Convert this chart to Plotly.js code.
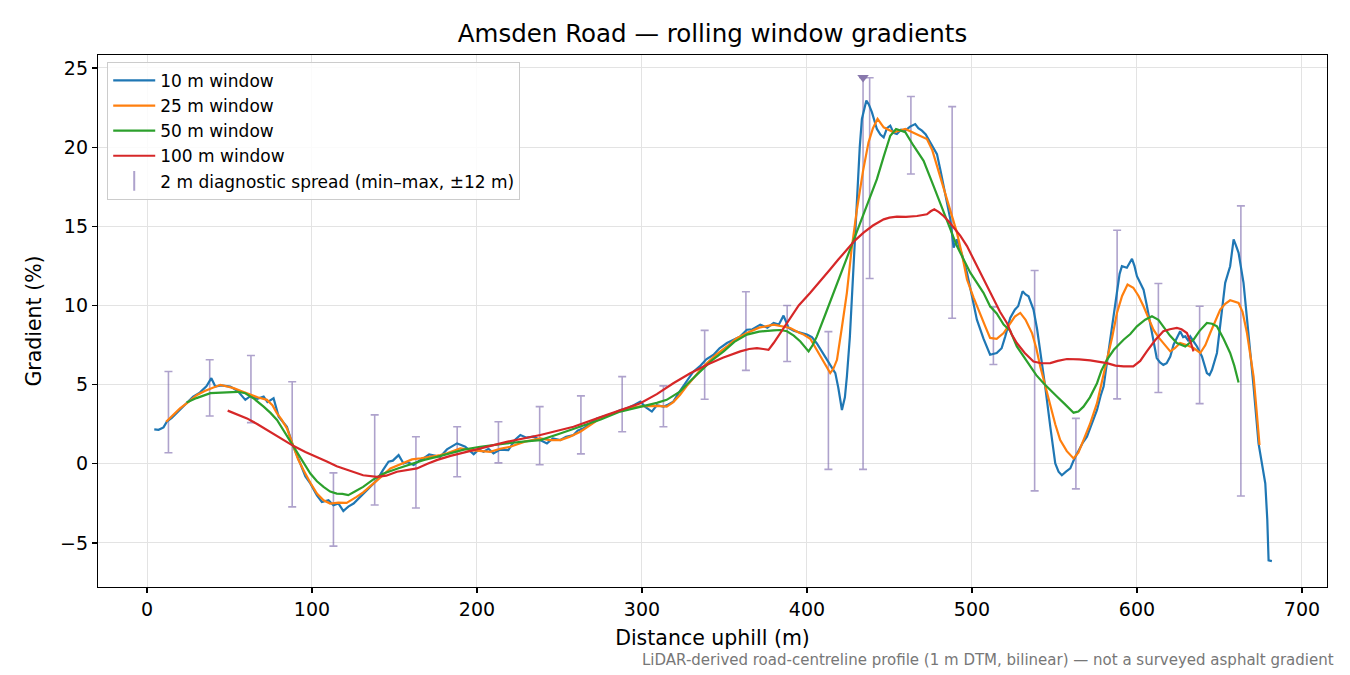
<!DOCTYPE html>
<html>
<head>
<meta charset="utf-8">
<script src="https://cdn.plot.ly/plotly-3.0.1.min.js"></script>
<style>
  html, body { margin: 0; padding: 0; background: #fff; }
  #chart { width: 1350px; height: 675px; }
</style>
</head>
<body>
<div id="chart"></div>
<script>
// 10 m window
const dist10 = [4.4, 7, 10, 12, 15, 20, 24, 28, 32, 36, 39, 41.4, 45, 50.5, 55, 59.6, 63, 67, 70.7, 73, 76.7, 79.8, 84.8, 88.3, 92.9, 96, 99, 103, 106, 110, 113, 116, 119, 122, 125.2, 131, 135, 139.4, 143, 146.4, 149, 152.5, 155.5, 158, 161.6, 165, 167.6, 171, 175, 177.8, 181.8, 185, 187.9, 190, 192.9, 198, 201, 204, 207, 210, 214, 219, 223, 226.3, 230, 234.3, 238, 242.4, 246, 250.5, 254, 258.5, 261, 264.6, 268, 272.7, 277, 282.8, 287, 290.9, 295, 299, 302, 306, 309, 313, 316, 319, 323, 327, 331, 335, 339, 343.4, 347, 351.5, 355, 359.6, 363.6, 367, 371.7, 376, 379.8, 383, 385.8, 388.9, 392, 396, 400, 403, 406, 409, 412, 415, 417.2, 419, 421.2, 423, 424.2, 426, 427.3, 429, 430.3, 432, 433.3, 436, 437.5, 439.4, 442.4, 444.5, 446.5, 448.5, 450.5, 452.5, 454.5, 457, 459.6, 462.5, 465.6, 467.5, 469.7, 472, 474.7, 478.8, 481, 482.8, 486.9, 488.9, 490.9, 494, 497, 500, 503, 507, 511, 515, 518, 520.2, 523.2, 526, 528, 530.7, 532.5, 534.3, 537.3, 539.5, 541.4, 544.4, 547.5, 550.5, 552.5, 554.5, 557, 559.6, 562, 564.6, 567, 569.7, 572.5, 575.8, 578, 579.8, 583.8, 587.9, 589.5, 590.9, 593.9, 597, 598.5, 600, 604, 606, 608, 610, 612, 614, 616, 618, 620.2, 622.2, 624, 626.2, 628, 629.3, 631, 632.3, 634.5, 636.4, 639.4, 642.4, 644, 645.5, 648.5, 651.5, 653.5, 656.5, 658.6, 660, 661.6, 664.6, 667.6, 670.7, 673.7, 675.8, 677.8, 679, 679.8, 681.8];
const grad10 = [2.18, 2.15, 2.3, 2.66, 2.9, 3.4, 3.8, 4.25, 4.5, 4.9, 5.41, 4.88, 4.95, 4.88, 4.6, 4.04, 4.3, 4.1, 4.25, 3.9, 4.14, 2.98, 2.34, 1.19, 0.02, -0.8, -1.24, -2.0, -2.41, -2.3, -2.62, -2.5, -2.98, -2.7, -2.51, -1.88, -1.5, -1.03, -0.4, 0.13, 0.2, 0.55, 0.02, 0.1, -0.08, 0.2, 0.34, 0.6, 0.5, 0.44, 0.91, 1.1, 1.29, 1.2, 1.08, 0.61, 0.9, 0.76, 0.95, 0.66, 0.9, 0.87, 1.5, 1.82, 1.65, 1.71, 1.5, 1.29, 1.6, 1.5, 1.7, 1.82, 2.1, 2.24, 2.5, 2.87, 3.0, 3.19, 3.4, 3.51, 3.7, 3.93, 3.6, 3.3, 3.7, 3.61, 3.75, 3.93, 4.6, 5.2, 5.8, 6.15, 6.6, 6.89, 7.3, 7.63, 7.8, 8.05, 8.47, 8.5, 8.79, 8.6, 8.9, 8.8, 9.36, 8.58, 8.4, 8.3, 8.16, 8.0, 7.6, 7.1, 6.57, 6.1, 5.73, 4.8, 3.4, 4.2, 5.51, 8.0, 10.8, 14.0, 17.1, 20.0, 21.78, 22.94, 22.7, 22.2, 21.15, 20.8, 20.62, 21.2, 21.36, 20.9, 20.83, 21.1, 21.04, 21.3, 21.46, 21.2, 21.04, 20.8, 20.3, 19.56, 18.5, 17.55, 15.44, 13.65, 14.18, 13.2, 12.07, 10.6, 9.1, 7.9, 6.89, 7.0, 7.3, 8.05, 9.21, 9.74, 9.95, 10.9, 10.7, 10.58, 9.74, 8.5, 7.2, 4.88, 2.34, 0.02, -0.5, -0.72, -0.5, -0.29, 0.3, 0.87, 1.3, 1.71, 2.5, 3.4, 4.3, 4.88, 7.84, 11.0, 12.0, 12.48, 12.38, 12.95, 12.5, 11.85, 11.0, 10.0, 8.9, 7.6, 6.68, 6.4, 6.25, 6.35, 6.78, 7.52, 7.9, 8.37, 8.0, 8.05, 7.8, 8.05, 7.7, 7.41, 6.78, 5.73, 5.6, 5.94, 7.0, 9.74, 11.43, 12.48, 14.18, 13.8, 13.33, 11.43, 8.26, 4.88, 1.29, 0.02, -1.24, -3.5, -6.1, -6.15];

// 25 m window
const dist25 = [11.6, 16, 20, 25, 30.3, 35, 40, 44.4, 48, 52.5, 57, 62.6, 67, 72.7, 76, 78.8, 81.5, 84.8, 88.9, 91.5, 94.9, 99, 103, 107, 111, 116, 121, 124, 127, 131, 135, 141, 147.5, 154, 160.6, 166, 171.7, 177.8, 181.8, 189.9, 198, 208, 214, 220.2, 229, 238.4, 244, 250.5, 256, 262.6, 268, 274.7, 282.8, 290.9, 300, 309, 315, 319, 323, 327, 331.3, 335, 339.4, 345, 351.5, 357, 363.6, 371, 379.8, 385, 389.9, 395, 398, 402, 406, 410, 414.1, 416, 418.2, 421, 424.2, 427, 430.3, 434, 437.3, 440, 442.8, 446.5, 452.5, 459.6, 466.7, 472.7, 476, 478.8, 484.8, 490.9, 494, 497, 501, 505, 508, 511, 515, 519.2, 523.2, 526, 529.3, 532.5, 536.4, 539, 541.4, 544.5, 547.5, 550.5, 553.5, 557.5, 561.6, 564.5, 567.6, 571.5, 575.8, 579, 581.8, 585, 587.9, 591, 594.3, 597.8, 601, 604, 607, 610, 613, 616, 620.2, 623, 626.2, 630, 634.3, 638.4, 641.5, 644.4, 647.5, 650.5, 653.5, 656.5, 661.6, 664, 666.7, 668.7, 670.7, 672.5, 674.3];
const grad25 = [2.66, 3.1, 3.5, 3.9, 4.35, 4.6, 4.8, 4.99, 4.9, 4.78, 4.6, 4.35, 4.2, 4.04, 3.7, 3.19, 2.8, 2.24, 1.08, 0.3, -0.4, -1.2, -1.88, -2.3, -2.51, -2.45, -2.47, -2.3, -2.09, -1.8, -1.46, -0.9, -0.29, 0.0, 0.28, 0.35, 0.44, 0.55, 0.66, 0.98, 0.85, 0.76, 0.95, 1.08, 1.4, 1.61, 1.5, 1.5, 1.7, 2.03, 2.4, 2.87, 3.2, 3.51, 3.65, 3.66, 3.61, 3.9, 4.35, 4.9, 5.41, 5.9, 6.36, 6.9, 7.41, 7.9, 8.26, 8.6, 8.79, 8.7, 8.58, 8.3, 8.16, 7.9, 7.2, 6.5, 5.73, 6.0, 6.57, 8.5, 10.8, 13.5, 16.08, 18.5, 20.3, 21.2, 21.78, 21.25, 20.94, 21.15, 20.83, 20.51, 19.8, 18.82, 16.71, 14.6, 13.2, 11.64, 10.5, 9.53, 8.7, 7.95, 7.9, 8.26, 8.9, 9.3, 9.53, 9.1, 8.26, 7.3, 6.15, 4.9, 3.61, 2.5, 1.5, 0.8, 0.34, 0.7, 1.5, 2.5, 3.83, 5.2, 6.57, 8.0, 9.53, 10.6, 11.33, 11.12, 10.6, 9.95, 9.2, 8.47, 8.0, 7.63, 7.1, 7.3, 7.63, 7.5, 7.31, 7.0, 7.5, 8.26, 9.0, 9.74, 10.1, 10.33, 10.16, 9.6, 8.26, 7.0, 5.51, 3.4, 1.19];

// 50 m window
const dist50 = [24, 30, 38.4, 44, 50.5, 55, 59.6, 65, 70.7, 75, 78.8, 84, 88.9, 94, 99, 103, 107, 111, 115, 118.5, 122, 126, 131, 137, 143.4, 152, 161.6, 168, 175.7, 183.8, 192, 202, 210, 218, 228, 238.4, 250, 262.6, 275, 286.8, 295, 303, 309, 315, 319, 323, 329, 335, 342, 349.5, 356, 363.6, 371, 379.8, 384, 387.9, 392, 396, 398.5, 401, 403.5, 406, 411, 416.2, 423, 430.3, 436, 442.4, 446.5, 450.5, 454, 459.6, 464.6, 470.7, 476.7, 482.8, 490.9, 499, 507, 511, 515, 519.2, 523.2, 527.2, 531, 535.3, 539, 543.4, 547, 551.5, 556, 561.6, 564.5, 567.6, 571.5, 575.8, 578.5, 581.8, 586, 591.9, 596, 600, 605, 609.1, 613, 616, 620, 624.2, 629.3, 634.3, 638, 642.4, 645.5, 648.5, 652.5, 656.5, 659, 661.6];
const grad50 = [3.87, 4.15, 4.46, 4.5, 4.56, 4.55, 4.46, 4.1, 3.61, 3.2, 2.77, 1.9, 1.08, 0.2, -0.61, -1.1, -1.46, -1.75, -1.88, -1.9, -1.98, -1.75, -1.46, -1.0, -0.61, -0.3, 0.02, 0.25, 0.44, 0.66, 0.9, 1.08, 1.2, 1.29, 1.4, 1.5, 1.9, 2.34, 2.8, 3.3, 3.5, 3.66, 3.85, 4.04, 4.3, 4.56, 5.2, 5.83, 6.5, 7.1, 7.7, 8.16, 8.35, 8.43, 8.45, 8.37, 8.1, 7.73, 7.4, 7.1, 7.5, 8.05, 9.4, 10.8, 12.7, 14.6, 16.2, 17.98, 19.4, 20.72, 21.15, 20.94, 20.09, 19.14, 17.55, 15.87, 13.75, 12.07, 10.8, 9.95, 9.5, 8.8, 8.4, 7.41, 6.8, 6.15, 5.6, 5.09, 4.7, 4.25, 3.8, 3.23, 3.3, 3.61, 4.2, 5.09, 5.9, 6.57, 7.2, 7.84, 8.2, 8.68, 9.1, 9.32, 9.1, 8.68, 8.1, 7.63, 7.41, 7.84, 8.4, 8.9, 8.85, 8.68, 7.9, 7.0, 6.2, 5.13];

// 100 m window
const dist100 = [48.9, 55, 60.6, 67, 74.7, 82, 88.9, 96, 103, 109, 115, 123, 131, 139.4, 145, 151.5, 157, 163.6, 170, 176, 184, 198, 218, 238.4, 258.5, 278.8, 299, 309, 319, 329, 339.4, 349, 359.6, 365, 369.7, 373.5, 376.7, 379.8, 384, 389.9, 395, 402, 408, 414, 419, 424.2, 429, 434.3, 440, 446.5, 450, 454.5, 460, 466.7, 470, 472.7, 475, 477.2, 480, 482.8, 486, 488.9, 493, 497, 501, 505, 509, 513, 517, 521.2, 524, 527.2, 532, 537.3, 542, 547.5, 552, 557.6, 565, 571.7, 577, 581.8, 587, 591.9, 597.8, 602, 606, 611, 616, 620, 624.2, 627, 630.3, 632.5, 634.3];
const grad100 = [3.36, 3.1, 2.87, 2.5, 2.03, 1.55, 1.12, 0.75, 0.44, 0.15, -0.15, -0.45, -0.72, -0.82, -0.75, -0.5, -0.4, -0.29, 0.0, 0.25, 0.5, 0.87, 1.39, 1.82, 2.34, 3.09, 3.83, 4.4, 5.09, 5.7, 6.25, 6.7, 7.1, 7.25, 7.31, 7.25, 7.2, 7.63, 8.3, 9.21, 10.0, 10.8, 11.5, 12.27, 12.9, 13.54, 14.1, 14.6, 15.05, 15.44, 15.55, 15.61, 15.6, 15.65, 15.7, 15.76, 15.95, 16.08, 15.9, 15.65, 15.3, 14.92, 14.4, 13.75, 12.9, 12.07, 11.2, 10.37, 9.6, 8.9, 8.2, 7.63, 7.0, 6.46, 6.35, 6.36, 6.5, 6.62, 6.6, 6.53, 6.45, 6.36, 6.2, 6.15, 6.15, 6.5, 7.1, 7.8, 8.37, 8.5, 8.58, 8.5, 8.26, 7.7, 7.1];

// 2 m diagnostic spread (min / max)
const spreadDist = [13, 38, 63, 88, 113, 138, 163, 188, 213, 238, 263, 288, 313, 338, 363, 388, 413, 434, 438, 463, 488, 513, 538, 563, 588, 613, 638, 663];
const spreadMin = [0.70, 3.02, 2.6, -2.72, -5.2, -2.6, -2.79, -0.82, 0.06, -0.06, 0.63, 2.03, 2.34, 4.08, 5.9, 6.46, -0.35, -0.35, 11.7, 18.3, 9.19, 6.27, -1.71, -1.58, 4.1, 4.5, 3.8, -2.03];
const spreadMax = [5.83, 6.57, 6.84, 5.18, -0.57, 3.09, 1.71, 2.34, 2.66, 3.61, 4.29, 5.51, 4.92, 8.43, 10.87, 10.0, 8.35, 24.4, 24.38, 23.2, 22.56, 9.91, 12.21, 2.87, 14.75, 11.39, 9.95, 16.29];

// steepest point marker
const peakDist = [434];
const peakGrad = [24.4];

const FONT = 'DejaVu Sans, sans-serif';
const spreadColor = 'rgba(120,100,170,0.6)';

const mid = spreadMin.map((v, i) => (v + spreadMax[i]) / 2);
const half = spreadMin.map((v, i) => (spreadMax[i] - v) / 2);

const traces = [
  {
    x: spreadDist, y: mid, type: 'scatter', mode: 'markers',
    marker: { size: 1, opacity: 0 }, showlegend: false, hoverinfo: 'skip',
    error_y: { type: 'data', array: half, arrayminus: half, symmetric: false,
               color: spreadColor, thickness: 1.6, width: 4 }
  },
  { x: dist10, y: grad10, type: 'scatter', mode: 'lines', name: '10 m window',
    line: { color: '#1f77b4', width: 2.2 } },
  { x: dist25, y: grad25, type: 'scatter', mode: 'lines', name: '25 m window',
    line: { color: '#ff7f0e', width: 2.2 } },
  { x: dist50, y: grad50, type: 'scatter', mode: 'lines', name: '50 m window',
    line: { color: '#2ca02c', width: 2.2 } },
  { x: dist100, y: grad100, type: 'scatter', mode: 'lines', name: '100 m window',
    line: { color: '#d62728', width: 2.2 } },
  { x: [null], y: [null], type: 'scatter', mode: 'markers',
    name: '2 m diagnostic spread (min\u2013max, \u00b112 m)',
    marker: { symbol: 'line-ns-open', size: 14, color: spreadColor,
              line: { color: spreadColor, width: 2 } } },
  { x: peakDist, y: peakGrad, type: 'scatter', mode: 'markers', showlegend: false,
    marker: { symbol: 'triangle-down', size: 10, color: 'rgb(136,120,172)' } }
];

const axisCommon = {
  showline: true, mirror: true, linecolor: '#000', linewidth: 1.2,
  ticks: 'outside', ticklen: 5, tickwidth: 1.2, tickcolor: '#000',
  showgrid: true, gridcolor: '#e3e3e3', gridwidth: 1, zeroline: false,
  tickfont: { family: FONT, size: 19, color: '#000' }
};

const layout = {
  width: 1350, height: 675,
  margin: { l: 98, r: 23, t: 55, b: 88 },
  paper_bgcolor: '#fff', plot_bgcolor: '#fff',
  font: { family: FONT, color: '#000' },
  title: { text: 'Amsden Road \u2014 rolling window gradients',
           font: { family: FONT, size: 24.5, color: '#000' },
           x: 0.5, xref: 'paper', xanchor: 'center', y: 0.95, yref: 'container', yanchor: 'middle' },
  xaxis: Object.assign({}, axisCommon, {
    range: [-29.7, 715.2], tickvals: [0, 100, 200, 300, 400, 500, 600, 700],
    title: { text: 'Distance uphill (m)', font: { family: FONT, size: 20.5, color: '#000' }, standoff: 11 }
  }),
  yaxis: Object.assign({}, axisCommon, {
    range: [-7.78, 25.82], tickvals: [-5, 0, 5, 10, 15, 20, 25],
    title: { text: 'Gradient (%)', font: { family: FONT, size: 20.5, color: '#000' }, standoff: 12 }
  }),
  legend: {
    x: 0.0075, y: 0.987, xanchor: 'left', yanchor: 'top',
    bgcolor: 'rgba(255,255,255,0.85)', bordercolor: '#cccccc', borderwidth: 1,
    itemwidth: 42,
    font: { family: FONT, size: 17, color: '#000' }
  },
  annotations: [{
    text: 'LiDAR-derived road-centreline profile (1 m DTM, bilinear) \u2014 not a surveyed asphalt gradient',
    xref: 'paper', yref: 'paper', x: 1.0073, y: -0.137, xanchor: 'right', yanchor: 'middle',
    showarrow: false, font: { family: FONT, size: 15, color: '#777' }
  }]
};

Plotly.newPlot('chart', traces, layout, { displayModeBar: false, staticPlot: true });
</script>
</body>
</html>
